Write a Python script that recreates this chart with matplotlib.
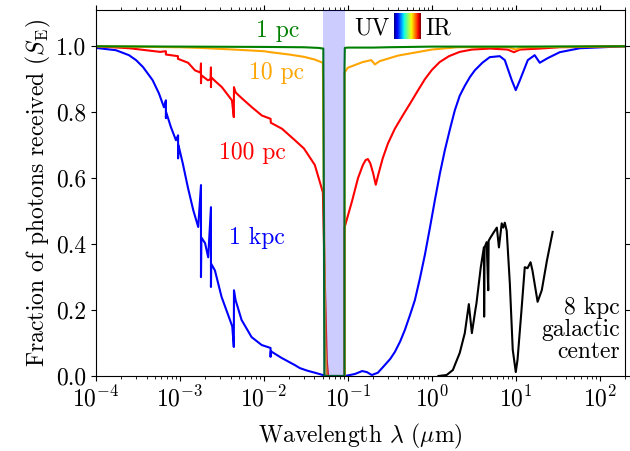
import matplotlib
matplotlib.use("Agg")
import matplotlib.pyplot as plt
import numpy as np

plt.rcParams["font.family"] = ["cmr10", "DejaVu Serif"]
plt.rcParams["mathtext.fontset"] = "cm"
plt.rcParams["axes.formatter.use_mathtext"] = True
plt.rcParams["axes.unicode_minus"] = False

# wavelength (um) and fraction of photons received
wl_1pc = [1e-4, 1e-3, 1e-2, 3e-2, 4.5e-2, 5.1e-2, 5.25e-2, 9.12e-2, 9.12e-2, 9.2e-2, 0.1, 0.2, 0.3, 1.0, 10.0, 200.0]
s_1pc = [1.0, 0.999, 0.998, 0.997, 0.995, 0.993, 0.0, 0.0, 0.93, 0.995, 0.996, 0.996, 0.997, 0.999, 0.999, 1.0]

wl_10pc = [1e-4, 1e-3, 1.78e-3, 4.4e-3, 1e-2, 1.2e-2, 2e-2, 3e-2, 4e-2, 5.04e-2, 5.2e-2, 5.4e-2, 5.6e-2,
           9.12e-2, 9.12e-2, 0.1, 0.15, 0.19, 0.21, 0.24, 0.4, 1.0, 2.0, 8.0, 10.0, 12.0, 200.0]
s_10pc = [1.0, 0.997, 0.995, 0.99, 0.985, 0.982, 0.975, 0.968, 0.96, 0.95, 0.5, 0.1, 0.0,
          0.0, 0.92, 0.935, 0.952, 0.958, 0.945, 0.955, 0.972, 0.99, 0.997, 0.998, 0.99, 0.997, 1.0]

wl_100pc = [1e-4, 2.5e-4, 5.8e-4, 6.8e-4, 6.8e-4, 9.46e-4, 9.46e-4, 1.25e-3, 1.51e-3, 1.76e-3, 1.78e-3, 1.78e-3,
            1.8e-3, 2.15e-3, 2.32e-3, 2.34e-3, 2.34e-3, 2.36e-3, 2.61e-3, 3.16e-3, 4.16e-3, 4.38e-3, 4.4e-3,
            4.6e-3, 5.47e-3, 7.2e-3, 9.46e-3, 1.2e-2, 1.21e-2, 1.64e-2, 2.34e-2, 3.0e-2, 4.04e-2, 5.04e-2,
            5.3e-2, 5.6e-2, 5.8e-2, 9.12e-2, 9.12e-2, 0.112, 0.132, 0.151, 0.163, 0.173, 0.185, 0.2, 0.215,
            0.23, 0.26, 0.3, 0.363, 0.45, 0.547, 0.68, 0.826, 1.0, 1.24, 1.6, 2.15, 3.0, 4.9, 8.0, 9.5,
            11.2, 19.3, 33.0, 200.0]
s_100pc = [1.0, 0.994, 0.983, 0.985, 0.975, 0.97, 0.962, 0.95, 0.927, 0.92, 0.948, 0.888,
           0.912, 0.897, 0.9, 0.936, 0.876, 0.906, 0.895, 0.876, 0.836, 0.785, 0.876,
           0.86, 0.842, 0.815, 0.79, 0.78, 0.768, 0.75, 0.715, 0.69, 0.64, 0.557,
           0.3, 0.05, 0.0, 0.0, 0.45, 0.53, 0.6, 0.64, 0.655, 0.658, 0.645, 0.615, 0.58,
           0.61, 0.66, 0.705, 0.75, 0.79, 0.825, 0.865, 0.9, 0.928, 0.952, 0.97, 0.983, 0.99, 0.993, 0.99, 0.982,
           0.99, 0.993, 0.997, 1.0]

wl_1kpc = [1e-4, 1.73e-4, 2.47e-4, 3.0e-4, 3.63e-4, 4.2e-4, 4.73e-4, 5.62e-4, 6.45e-4, 6.8e-4, 6.8e-4, 6.85e-4,
           7.8e-4, 8.96e-4, 9.5e-4, 9.5e-4, 9.6e-4, 1.08e-3, 1.24e-3, 1.44e-3, 1.65e-3, 1.78e-3, 1.78e-3,
           1.8e-3, 1.99e-3, 2.17e-3, 2.34e-3, 2.34e-3, 2.36e-3, 2.61e-3, 3.13e-3, 3.94e-3, 4.2e-3, 4.38e-3,
           4.4e-3, 4.6e-3, 5.42e-3, 7.13e-3, 9.4e-3, 1.2e-2, 1.2e-2, 1.21e-2, 1.62e-2, 2.34e-2, 2.68e-2,
           3.3e-2, 4.04e-2, 5.04e-2, 5.6e-2, 9.2e-2, 0.121, 0.148, 0.168, 0.193, 0.228, 0.275, 0.32, 0.363,
           0.42, 0.478, 0.55, 0.628, 0.72, 0.826, 0.95, 1.087, 1.25, 1.43, 1.65, 1.88, 2.15, 2.47, 2.85,
           3.25, 4.0, 4.9, 6.45, 7.4, 8.96, 10.0, 11.2, 13.9, 16.8, 19.3, 24.0, 33.4, 57.8, 200.0]
s_1kpc = [0.995, 0.988, 0.973, 0.958, 0.937, 0.915, 0.897, 0.857, 0.815, 0.836, 0.782, 0.8,
          0.755, 0.715, 0.73, 0.66, 0.7, 0.645, 0.573, 0.503, 0.452, 0.579, 0.30,
          0.42, 0.403, 0.36, 0.512, 0.27, 0.34, 0.32, 0.24, 0.17, 0.15, 0.088,
          0.26, 0.23, 0.17, 0.118, 0.094, 0.085, 0.058, 0.075, 0.055, 0.033, 0.024,
          0.016, 0.01, 0.003, 0.0, 0.0, 0.006, 0.015, 0.012, 0.003, 0.01, 0.033, 0.052, 0.073,
          0.105, 0.14, 0.185, 0.23, 0.295, 0.367, 0.45, 0.533, 0.615, 0.685, 0.75, 0.806, 0.85, 0.88, 0.907,
          0.927, 0.95, 0.967, 0.97, 0.958, 0.897, 0.867, 0.897, 0.958, 0.973, 0.95, 0.964, 0.982, 0.994, 1.0]

wl_gc = [1.2, 1.5, 1.78, 2.15, 2.47, 2.76, 3.0, 3.3, 3.4, 3.83, 4.17, 4.2, 4.25, 4.5, 4.7, 4.75, 5.0, 5.6,
         5.95, 6.3, 6.8, 7.1, 7.4, 7.8, 8.5, 9.2, 10.0, 10.5, 11.7, 12.8, 13.8, 15.0, 15.8, 18.2, 20.4, 23.5, 27.5]
s_gc = [0.0, 0.003, 0.018, 0.07, 0.13, 0.218, 0.13, 0.2, 0.22, 0.33, 0.39, 0.18, 0.39, 0.406, 0.26, 0.41, 0.42, 0.44,
        0.45, 0.39, 0.463, 0.45, 0.465, 0.44, 0.28, 0.08, 0.012, 0.05, 0.2, 0.33, 0.327, 0.345, 0.32, 0.225, 0.26, 0.35, 0.437]

band = [0.0504, 0.0912]

fs = 17
fig = plt.figure(figsize=(6.3, 4.51), dpi=100)
ax = fig.add_axes([96 / 630, 1 - 376 / 451, 529 / 630, 366 / 451])

ax.plot(wl_gc, s_gc, color="black", lw=1.5)
ax.plot(wl_1kpc, s_1kpc, color="blue", lw=1.5)
ax.plot(wl_100pc, s_100pc, color="red", lw=1.5)
ax.plot(wl_10pc, s_10pc, color="orange", lw=1.5)
ax.plot(wl_1pc, s_1pc, color="green", lw=1.5)
ax.axvspan(band[0], band[1], color="blue", alpha=0.2, lw=0, zorder=3)

ax.set_xscale("log")
ax.set_xlim(1e-4, 200)
ax.set_ylim(0, 1.11)
ax.set_yticks([0.0, 0.2, 0.4, 0.6, 0.8, 1.0])
ax.set_yticklabels(["0.0", "0.2", "0.4", "0.6", "0.8", "1.0"])
ax.tick_params(which="both", direction="out", top=True, right=True, labelsize=fs)
ax.set_xlabel(r"Wavelength $\lambda$ ($\mu$m)", fontsize=fs, labelpad=8)
ax.set_ylabel(r"Fraction of photons received ($S_\mathrm{E}$)", fontsize=fs, labelpad=2)

ax.text(0.0147, 1.045, "1 pc", color="green", fontsize=fs, ha="center", va="center")
ax.text(0.0143, 0.92, "10 pc", color="orange", fontsize=fs, ha="center", va="center")
ax.text(0.0074, 0.676, "100 pc", color="red", fontsize=fs, ha="center", va="center")
ax.text(0.0082, 0.418, "1 kpc", color="blue", fontsize=fs, ha="center", va="center")
ax.text(175, 0.14, "8 kpc\ngalactic\ncenter", color="black", fontsize=fs, ha="right", va="center",
        linespacing=1.0)

# UV - IR colour strip
fig.text(372 / 630, 1 - 28 / 451, "UV", fontsize=fs, ha="center", va="center")
fig.text(438 / 630, 1 - 28 / 451, "IR", fontsize=fs, ha="center", va="center")
cax = fig.add_axes([394 / 630, 1 - 39 / 451, 27 / 630, 26 / 451])
cax.imshow(np.linspace(0, 1, 256)[None, :], cmap="jet", aspect="auto")
cax.axis("off")

fig.savefig("out.png")
